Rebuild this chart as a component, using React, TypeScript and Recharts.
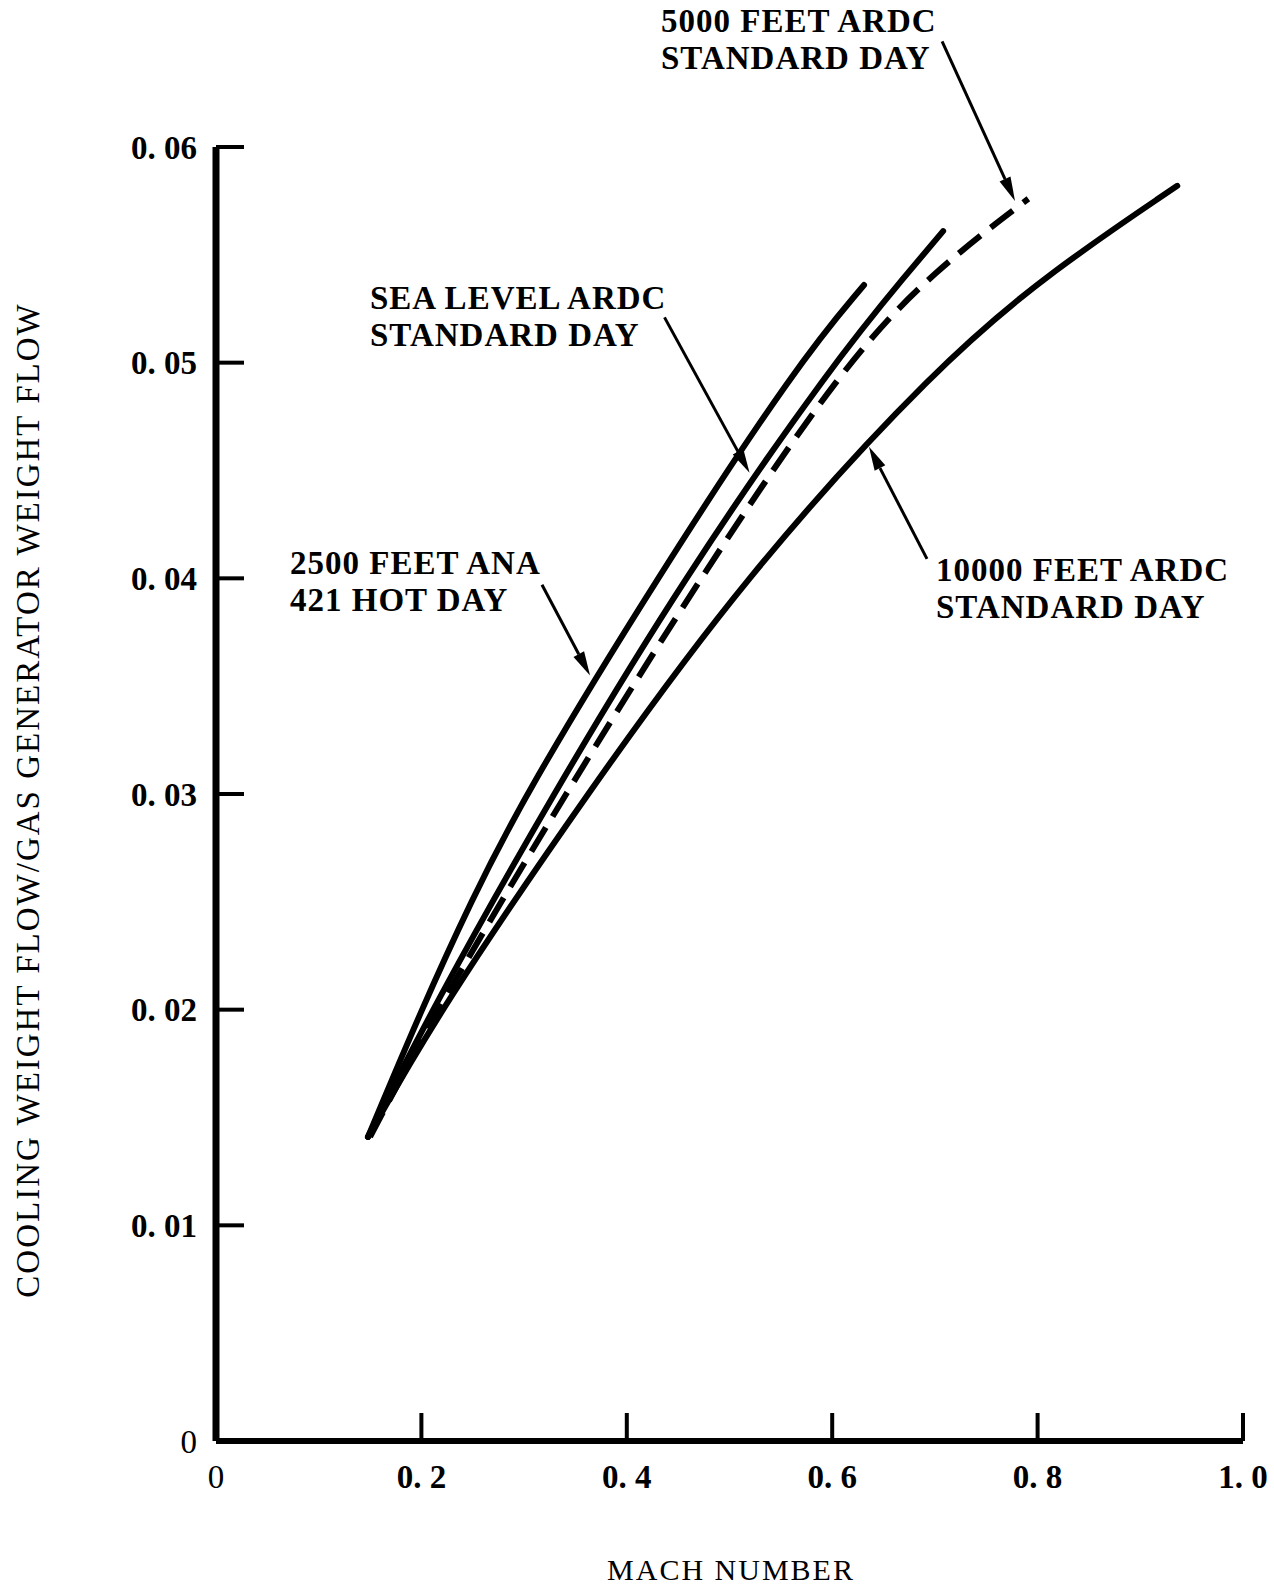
import React from "react";
import { LineChart, Line, XAxis, YAxis, ReferenceLine } from "recharts";

const machTicks = [0, 0.2, 0.4, 0.6, 0.8, 1.0];
const flowTicks = [0, 0.01, 0.02, 0.03, 0.04, 0.05, 0.06];

// [mach number, cooling flow / gas generator flow]
const hotDay2500: [number, number][] = [
  [0.148, 0.0141], [0.2, 0.02], [0.248, 0.025], [0.301, 0.03], [0.429, 0.04], [0.567, 0.05], [0.631, 0.0536],
];
const seaLevel: [number, number][] = [
  [0.148, 0.0141], [0.21, 0.02], [0.328, 0.03], [0.455, 0.04], [0.601, 0.05], [0.676, 0.0543], [0.708, 0.0561],
];
const feet5000: [number, number][] = [
  [0.15, 0.0141], [0.215, 0.02], [0.34, 0.03], [0.471, 0.04], [0.612, 0.05], [0.7, 0.0543], [0.791, 0.0576],
];
const feet10000: [number, number][] = [
  [0.148, 0.0141], [0.218, 0.02], [0.361, 0.03], [0.513, 0.04], [0.705, 0.05], [0.815, 0.0543], [0.936, 0.0582],
];

// annotation arrows, in data units: [from, to]
const arrows: [number, number][][] = [
  [[0.707, 0.0649], [0.778, 0.0575]],
  [[0.4367, 0.0521], [0.5195, 0.0449]],
  [[0.3174, 0.0397], [0.3642, 0.0355]],
  [[0.6923, 0.0409], [0.6358, 0.0461]],
];

const toRows = (pts: [number, number][]) => pts.map(([mach, flow]) => ({ mach, flow }));

const FONT = '"Liberation Serif", "DejaVu Serif", serif';

function Arrow(props: any) {
  const { x1, y1, x2, y2 } = props;
  const ang = Math.atan2(y2 - y1, x2 - x1);
  const len = 24;
  const half = 6;
  const bx = x2 - len * Math.cos(ang);
  const by = y2 - len * Math.sin(ang);
  const px = -Math.sin(ang) * half;
  const py = Math.cos(ang) * half;
  return (
    <g>
      <line x1={x1} y1={y1} x2={bx} y2={by} stroke="#000" strokeWidth={3} />
      <polygon points={`${x2},${y2} ${bx + px},${by + py} ${bx - px},${by - py}`} fill="#000" />
    </g>
  );
}

const fmt = (v: number, digits: number) => (v === 0 ? "0" : v.toFixed(digits).replace(".", ". "));

function YTick(props: any) {
  const { x, y, payload } = props;
  return (
    <text x={x} y={y} dy="0.35em" textAnchor="end" fill="#000" fontFamily={FONT} fontSize={33}
      fontWeight={payload.value === 0 ? "normal" : "bold"}>
      {fmt(payload.value, 2)}
    </text>
  );
}

function XTick(props: any) {
  const { x, y, payload } = props;
  return (
    <text x={x} y={y} dy="0.71em" textAnchor="middle" fill="#000" fontFamily={FONT} fontSize={33}
      fontWeight={payload.value === 0 ? "normal" : "bold"}>
      {fmt(payload.value, 1)}
    </text>
  );
}

const labelStyle: React.CSSProperties = {
  position: "absolute",
  fontFamily: FONT,
  fontWeight: "bold",
  fontSize: 33,
  lineHeight: "37px",
  letterSpacing: 1,
  whiteSpace: "nowrap",
  color: "#000",
};

export default function App() {
  return (
    <div style={{ position: "absolute", left: 0, top: 0, width: 1274, height: 1588, background: "#fff" }}>
      <LineChart width={1274} height={1588} margin={{ top: 147, right: 31, left: 156, bottom: 87 }}>
        <XAxis
          type="number"
          dataKey="mach"
          domain={[0, 1]}
          ticks={machTicks}
          height={60}
          axisLine={{ stroke: "#000", strokeWidth: 6 }}
          tickLine={{ stroke: "#000", strokeWidth: 4 }}
          tickSize={-28}
          tickMargin={52}
          tick={<XTick />}
          allowDuplicatedCategory={false}
        />
        <YAxis
          type="number"
          domain={[0, 0.06]}
          ticks={flowTicks}
          width={60}
          axisLine={{ stroke: "#000", strokeWidth: 7 }}
          tickLine={{ stroke: "#000", strokeWidth: 4 }}
          tickSize={-28}
          tickMargin={47}
          tick={<YTick />}
        />
        <Line data={toRows(hotDay2500)} dataKey="flow" type="basis" stroke="#000" strokeWidth={6}
          strokeLinecap="round" dot={false} isAnimationActive={false} />
        <Line data={toRows(seaLevel)} dataKey="flow" type="basis" stroke="#000" strokeWidth={6}
          strokeLinecap="round" dot={false} isAnimationActive={false} />
        <Line data={toRows(feet5000)} dataKey="flow" type="basis" stroke="#000" strokeWidth={6}
          strokeDasharray="28 13" dot={false} isAnimationActive={false} />
        <Line data={toRows(feet10000)} dataKey="flow" type="basis" stroke="#000" strokeWidth={6}
          strokeLinecap="round" dot={false} isAnimationActive={false} />
        {arrows.map(([from, to], i) => (
          <ReferenceLine
            key={i}
            segment={[{ x: from[0], y: from[1] }, { x: to[0], y: to[1] }]}
            ifOverflow="visible"
            shape={Arrow}
          />
        ))}
      </LineChart>

      <div style={{ ...labelStyle, left: 661, top: 3 }}>5000 FEET ARDC<br />STANDARD DAY</div>
      <div style={{ ...labelStyle, left: 370, top: 280 }}>SEA LEVEL ARDC<br />STANDARD DAY</div>
      <div style={{ ...labelStyle, left: 290, top: 545 }}>2500 FEET ANA<br />421 HOT DAY</div>
      <div style={{ ...labelStyle, left: 936, top: 552 }}>10000 FEET ARDC<br />STANDARD DAY</div>

      <div
        style={{
          position: "absolute",
          left: 28,
          top: 800,
          transform: "translate(-50%, -50%) rotate(-90deg)",
          fontFamily: FONT,
          fontSize: 33,
          letterSpacing: 2,
          whiteSpace: "nowrap",
          color: "#000",
        }}
      >
        COOLING WEIGHT FLOW/GAS GENERATOR WEIGHT FLOW
      </div>
      <div
        style={{
          position: "absolute",
          left: 731,
          top: 1570,
          transform: "translate(-50%, -50%)",
          fontFamily: FONT,
          fontSize: 30,
          letterSpacing: 2,
          whiteSpace: "nowrap",
          color: "#000",
        }}
      >
        MACH NUMBER
      </div>
    </div>
  );
}
